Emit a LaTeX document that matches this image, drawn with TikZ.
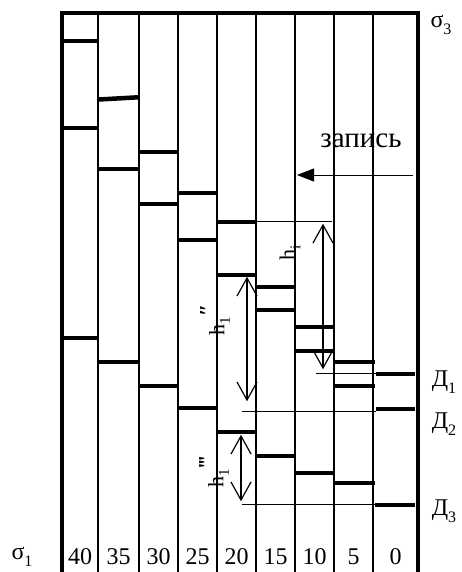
\documentclass[tikz,border=0pt]{standalone}
\usepackage{fontspec}
\setmainfont{Liberation Serif}
\usetikzlibrary{arrows.meta}
\newcommand\lowsub[1]{\raisebox{-0.28em}{\fontsize{16}{16}\selectfont #1}}
\newcommand\hsub[1]{\raisebox{-0.25em}{\fontsize{15}{15}\selectfont #1}}
\newcommand\hlab[2]{h\hsub{#1}\raisebox{0.45em}{\fontsize{22}{22}\selectfont\bfseries #2}}
\begin{document}
\begin{tikzpicture}[x=1pt,y=-1pt,
  frame/.style={line width=3.5pt,line join=miter},
  divider/.style={line width=1.8pt},
  bar/.style={line width=4.5pt},
  thinline/.style={line width=1pt},
  dim/.style={line width=1.2pt},
  lab/.style={font=\fontsize{24}{24}\selectfont, inner sep=0pt},
  hl/.style={font=\fontsize{22}{22}\selectfont, inner sep=0pt, rotate=90},
]
\useasboundingbox (0,0) rectangle (461,572);
% frame and dividers
\draw[frame] (62,575) -- (62,13) -- (418,13) -- (418,575);
\foreach \x in {98,139,178,217,256,295,334,373}
  \draw[divider] (\x,11) -- (\x,575);
% bars
\foreach \xa/\xb/\y in {63/98/41, 63/98/128, 63/98/338,
  99/139/169, 99/139/362,
  139/178/152, 139/178/204, 139/178/386,
  178/217/193, 178/217/240, 178/217/408,
  217/256/222, 217/256/275, 217/256/432,
  256/295/287, 256/295/310, 256/295/456,
  295/334/327, 295/334/351, 295/334/473,
  334/375/362, 334/375/386, 334/375/483,
  376/415/374, 376/415/409, 375/415/505}
  \draw[bar] (\xa,\y) -- (\xb,\y);
\draw[bar] (99,99.5) -- (138,97.3);
% named points
\coordinate (hiT) at (323,225);
\coordinate (hiB) at (323,368);
\coordinate (h2T) at (247,278);
\coordinate (h2B) at (247,400);
\coordinate (h3T) at (241,436);
\coordinate (h3B) at (241,500);
\coordinate (recA) at (413,175);
\coordinate (recB) at (297,175);
\coordinate (l0a) at (256,221);
\coordinate (l0b) at (332,221);
\coordinate (l1a) at (316,373);
\coordinate (l1b) at (376,373);
\coordinate (l2a) at (242,411);
\coordinate (l2b) at (376,411);
\coordinate (l3a) at (242,504);
\coordinate (l3b) at (375,504);
% thin lines
\draw[thinline] (l0a) -- (l0b);
\draw[thinline] (l1a) -- (l1b);
\draw[thinline] (l2a) -- (l2b);
\draw[thinline] (l3a) -- (l3b);
% dimension arrows with open V heads
\foreach \t/\b in {hiT/hiB, h2T/h2B, h3T/h3B}{
  \draw[dim] (\t) -- (\b);
  \draw[dim] ([shift={(-10,18)}]\t) -- (\t) -- ([shift={(10,18)}]\t);
  \draw[dim] ([shift={(-10,-18)}]\b) -- (\b) -- ([shift={(10,-18)}]\b);
}
% record arrow
\draw[thinline,-{Triangle[length=17pt,width=13pt]}] (recA) -- (recB);
\node[lab,font=\fontsize{29}{29}\selectfont] (rec) at (361,141) {запись};
% labels
\node[lab] (s3) at (441,25) {σ\lowsub{3}};
\node[lab] (s1) at (22,557) {σ\lowsub{1}};
\node[lab] (d1) at (444,382) {Д\lowsub{1}};
\node[lab] (d2) at (444,424) {Д\lowsub{2}};
\node[lab] (d3) at (444,511) {Д\lowsub{3}};
\foreach \x/\t [count=\i] in {80/40,118.5/35,158.5/30,197.5/25,236.5/20,275.5/15,314.5/10,353.5/5,395.5/0}
  \node[lab] (c\i) at (\x,557) {\t};
\node[hl] (hi) at (290,253) {h\hsub{i}};
\node[hl] (h2) at (215,320) {\hlab{1}{″}};
\node[hl] (h3) at (214,472) {\hlab{1}{‴}};
\end{tikzpicture}
\end{document}
